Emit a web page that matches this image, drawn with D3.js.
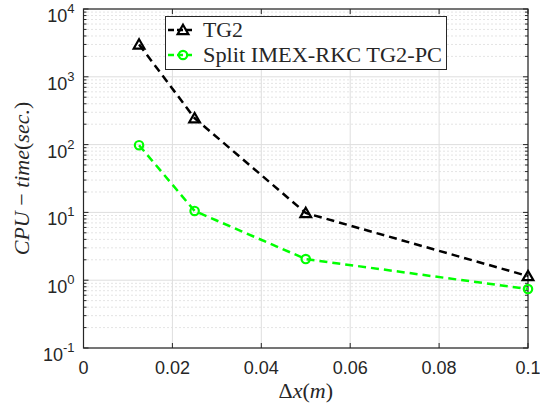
<!DOCTYPE html>
<html lang="en">
<head>
<meta charset="UTF-8">
<title>CPU time vs dx</title>
<script src="https://d3js.org/d3.v7.min.js"></script>
<style>
    body { margin: 0; background: #fff; }
    .tick-label { font-family: "Liberation Sans", Arial, sans-serif; font-size: 18px; fill: #262626; }
    .latex { font-family: "Liberation Serif", "DejaVu Serif", serif; fill: #262626; }
</style>
</head>
<body>
<svg width="540" height="408"></svg>
<script>
    const dx = [0.0125, 0.025, 0.05, 0.1];
    const tg2 = [3000, 245, 9.8, 1.15];
    const imex = [98, 10.5, 2.05, 0.74];
    const xTicks = [0, 0.02, 0.04, 0.06, 0.08, 0.1];
    const yDecades = [-1, 0, 1, 2, 3, 4];

    const svg = d3.select("svg");
    const pLeft = 83.5, pRight = 528, pTop = 9, pBottom = 348;

    const x = d3.scaleLinear().domain([0, 0.1]).range([pLeft, pRight]);
    const y = d3.scaleLog().domain([0.1, 10000]).range([pBottom, pTop]);

    // minor grid (dotted)
    const minor = [];
    yDecades.slice(0, -1).forEach(e => {
        for (let k = 2; k <= 9; k++) minor.push(k * Math.pow(10, e));
    });
    svg.selectAll(".minor").data(minor).enter().append("line")
        .attr("x1", pLeft).attr("x2", pRight)
        .attr("y1", d => y(d)).attr("y2", d => y(d))
        .attr("stroke", "#c8c8c8").attr("stroke-width", 1)
        .attr("stroke-dasharray", "1,3");

    // major grid
    svg.selectAll(".gy").data(yDecades).enter().append("line")
        .attr("x1", pLeft).attr("x2", pRight)
        .attr("y1", d => y(Math.pow(10, d))).attr("y2", d => y(Math.pow(10, d)))
        .attr("stroke", "#dedede");
    svg.selectAll(".gx").data(xTicks).enter().append("line")
        .attr("y1", pTop).attr("y2", pBottom)
        .attr("x1", d => x(d)).attr("x2", d => x(d))
        .attr("stroke", "#dedede");

    // ticks inside
    const tickCol = "#262626";
    xTicks.forEach(t => {
        svg.append("line").attr("x1", x(t)).attr("x2", x(t)).attr("y1", pBottom).attr("y2", pBottom - 5).attr("stroke", tickCol);
        svg.append("line").attr("x1", x(t)).attr("x2", x(t)).attr("y1", pTop).attr("y2", pTop + 5).attr("stroke", tickCol);
    });
    yDecades.forEach(e => {
        const v = y(Math.pow(10, e));
        svg.append("line").attr("x1", pLeft).attr("x2", pLeft + 5).attr("y1", v).attr("y2", v).attr("stroke", tickCol);
        svg.append("line").attr("x1", pRight).attr("x2", pRight - 5).attr("y1", v).attr("y2", v).attr("stroke", tickCol);
    });
    minor.forEach(m => {
        const v = y(m);
        svg.append("line").attr("x1", pLeft).attr("x2", pLeft + 3).attr("y1", v).attr("y2", v).attr("stroke", tickCol);
        svg.append("line").attr("x1", pRight).attr("x2", pRight - 3).attr("y1", v).attr("y2", v).attr("stroke", tickCol);
    });

    // box
    svg.append("rect").attr("x", pLeft).attr("y", pTop)
        .attr("width", pRight - pLeft).attr("height", pBottom - pTop)
        .attr("fill", "none").attr("stroke", tickCol).attr("stroke-width", 1.2);

    // x tick labels
    svg.selectAll(".xl").data(xTicks).enter().append("text")
        .attr("class", "tick-label")
        .attr("x", d => x(d)).attr("y", pBottom + 26)
        .attr("text-anchor", "middle")
        .text(d => String(+d.toFixed(2)));

    // y tick labels 10^e
    yDecades.forEach(e => {
        const t = svg.append("text").attr("class", "tick-label")
            .attr("x", pLeft - 9).attr("y", y(Math.pow(10, e)) + 13)
            .attr("text-anchor", "end");
        t.append("tspan").text("10");
        t.append("tspan").attr("dy", -9).attr("font-size", 13).text(e);
    });

    // axis labels
    const xl = svg.append("text").attr("class", "latex")
        .attr("x", (pLeft + pRight) / 2).attr("y", 398)
        .attr("text-anchor", "middle").attr("font-size", 22);
    xl.append("tspan").text("Δ");
    xl.append("tspan").attr("font-style", "italic").text("x");
    xl.append("tspan").text("(");
    xl.append("tspan").attr("font-style", "italic").text("m");
    xl.append("tspan").text(")");

    const yl = svg.append("text").attr("class", "latex")
        .attr("transform", `translate(29,${(pTop + pBottom) / 2}) rotate(-90)`)
        .attr("text-anchor", "middle").attr("font-size", 22);
    yl.append("tspan").attr("font-style", "italic").text("CPU");
    yl.append("tspan").text(" − ");
    yl.append("tspan").attr("font-style", "italic").text("time");
    yl.append("tspan").text("(");
    yl.append("tspan").attr("font-style", "italic").text("sec.");
    yl.append("tspan").text(")");

    // lines
    const line = d3.line().x(d => x(d[0])).y(d => y(d[1]));
    const series = [
        { name: "TG2", vals: tg2, color: "#000000", marker: "tri", w: 40 },
        { name: "Split IMEX-RKC TG2-PC", vals: imex, color: "#00ff00", marker: "circ", w: 239 }
    ];

    function drawMarker(g, type, cx, cy, color) {
        if (type === "tri") {
            g.append("path")
                .attr("d", d3.symbol().type(d3.symbolTriangle).size(50)())
                .attr("transform", `translate(${cx},${cy + 1})`)
                .attr("fill", "none").attr("stroke", color).attr("stroke-width", 2.2);
        } else {
            g.append("circle").attr("cx", cx).attr("cy", cy).attr("r", 4.2)
                .attr("fill", "none").attr("stroke", color).attr("stroke-width", 2.2);
        }
    }

    series.forEach(s => {
        const pts = dx.map((d, i) => [d, s.vals[i]]);
        svg.append("path").datum(pts).attr("d", line)
            .attr("fill", "none").attr("stroke", s.color)
            .attr("stroke-width", 2.5).attr("stroke-dasharray", "8,5");
        const g = svg.append("g");
        pts.forEach(p => drawMarker(g, s.marker, x(p[0]), y(p[1]), s.color));
    });

    // legend
    const lg = svg.append("g");
    lg.append("rect").attr("x", 165.5).attr("y", 16.5).attr("width", 281).attr("height", 53)
        .attr("fill", "#fff").attr("stroke", "#262626").attr("stroke-width", 1);
    series.forEach((s, i) => {
        const ly = 30 + i * 25;
        lg.append("line").attr("x1", 168).attr("x2", 194).attr("y1", ly).attr("y2", ly)
            .attr("stroke", s.color).attr("stroke-width", 2.5).attr("stroke-dasharray", "6,3");
        drawMarker(lg, s.marker, 183, ly, s.color);
        lg.append("text").attr("class", "latex").attr("font-size", 20)
            .attr("x", 203).attr("y", ly + 7)
            .attr("textLength", s.w).attr("lengthAdjust", "spacingAndGlyphs")
            .text(s.name);
    });
</script>
</body>
</html>
